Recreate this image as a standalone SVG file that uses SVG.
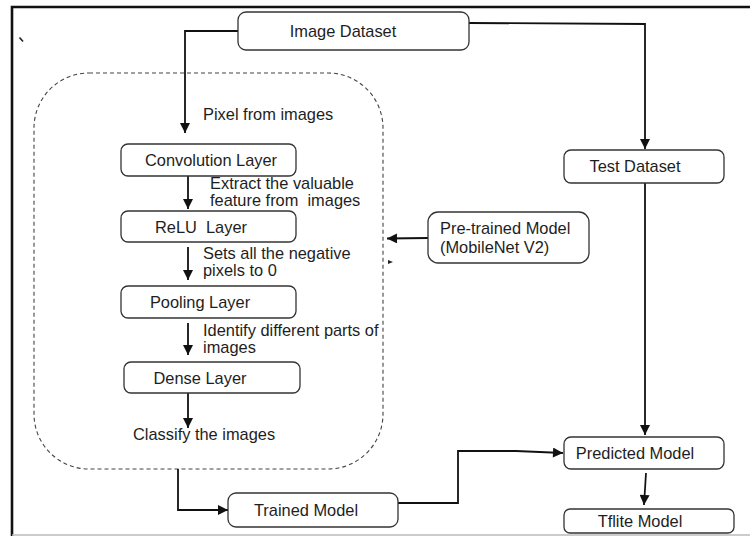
<svg xmlns="http://www.w3.org/2000/svg" width="750" height="536" viewBox="0 0 750 536">
<style>
.box{fill:#fff;stroke:#333;stroke-width:1.3}
.t{font-family:"Liberation Sans",Arial,sans-serif;font-size:16.4px;fill:#1e1e1e}
.c{text-anchor:middle}
.ln{fill:none;stroke:#111;stroke-width:1.8}
</style>
<defs>
<marker id="ah" viewBox="0 0 10 10" refX="10" refY="5" markerWidth="7" markerHeight="7" markerUnits="userSpaceOnUse" orient="auto">
<path d="M0,0 L10,5 L0,10 z" fill="#111"/>
</marker>
<marker id="ahs" viewBox="0 0 10 10" refX="10" refY="5" markerWidth="12" markerHeight="10" markerUnits="userSpaceOnUse" orient="auto">
<path d="M0,0 L10,5 L0,10 z" fill="#111"/>
</marker>
</defs>
<rect x="0" y="0" width="750" height="536" fill="#fff"/>
<path d="M760,7 L12,7 L12,536" fill="none" stroke="#111" stroke-width="2.6"/>
<line x1="12" y1="535" x2="750" y2="535" stroke="#bbb" stroke-width="1.5"/>
<line x1="19.5" y1="37.5" x2="23" y2="41.5" stroke="#222" stroke-width="1.6"/>
<path d="M388,260 L393,262 L388,264 z" fill="#222"/>

<g id="container">
<rect x="34" y="73" width="349" height="396" rx="55" ry="55" fill="none" stroke="#444" stroke-width="1.1" stroke-dasharray="4,3"/>
</g>

<g id="connectors">
<path class="ln" d="M238,31 L185,31 L185,133" marker-end="url(#ahs)"/>
<path class="ln" d="M469,23 L645,24 L645,149" marker-end="url(#ahs)"/>
<path class="ln" d="M188,176 L188,209" marker-end="url(#ahs)"/>
<path class="ln" d="M188,247 L188,280" marker-end="url(#ahs)"/>
<path class="ln" d="M188,323 L188,355" marker-end="url(#ahs)"/>
<path class="ln" d="M188,393 L188,428" marker-end="url(#ahs)"/>
<path class="ln" d="M178,469 L178,510 L228,510" marker-end="url(#ahs)"/>
<path class="ln" d="M398,503 L458,503 L458,451 L516,451 L563,453" marker-end="url(#ahs)"/>
<path class="ln" d="M645,183 L645,435" marker-end="url(#ahs)"/>
<path class="ln" d="M646,473 L644,505" marker-end="url(#ahs)"/>
<path class="ln" d="M428,238 L387,238.5" marker-end="url(#ahs)"/>
</g>

<g id="image-dataset">
<rect class="box" x="238" y="12" width="231" height="38" rx="8"/>
<text class="t" x="343" y="37" text-anchor="middle">Image Dataset</text>
</g>
<text class="t" x="203" y="120">Pixel from images</text>

<g id="convolution-layer">
<rect class="box" x="121" y="144" width="175" height="32" rx="7"/>
<text class="t" x="211" y="166" text-anchor="middle">Convolution Layer</text>
</g>
<text class="t" x="210" y="189">Extract the valuable</text>
<text class="t" x="210" y="206" xml:space="preserve">feature from  images</text>

<g id="relu-layer">
<rect class="box" x="121" y="211" width="175" height="31" rx="7"/>
<text class="t" x="201" y="233" text-anchor="middle" xml:space="preserve">ReLU  Layer</text>
</g>
<text class="t" x="203" y="259">Sets all the negative</text>
<text class="t" x="203" y="276">pixels to 0</text>

<g id="pooling-layer">
<rect class="box" x="121" y="286" width="175" height="32" rx="7"/>
<text class="t" x="200" y="308" text-anchor="middle">Pooling Layer</text>
</g>
<text class="t" x="203" y="336">Identify different parts of</text>
<text class="t" x="203" y="353">images</text>

<g id="dense-layer">
<rect class="box" x="124" y="362" width="176" height="31" rx="7"/>
<text class="t" x="200" y="384" text-anchor="middle">Dense Layer</text>
</g>
<text class="t" x="133" y="440">Classify the images</text>

<g id="trained-model">
<rect class="box" x="228" y="493" width="170" height="34" rx="8"/>
<text class="t" x="306" y="516" text-anchor="middle">Trained Model</text>
</g>

<g id="test-dataset">
<rect class="box" x="564" y="150" width="160" height="33" rx="7"/>
<text class="t" x="635" y="172" text-anchor="middle">Test Dataset</text>
</g>

<g id="pretrained-model">
<rect class="box" x="428" y="212" width="161" height="51" rx="10"/>
<text class="t" x="440" y="234">Pre-trained Model</text>
<text class="t" x="440" y="253">(MobileNet V2)</text>
</g>

<g id="predicted-model">
<rect class="box" x="564" y="437" width="160" height="32" rx="7"/>
<text class="t" x="635" y="459" text-anchor="middle">Predicted Model</text>
</g>

<g id="tflite-model">
<rect class="box" x="564" y="509" width="170" height="24" rx="6"/>
<text class="t" x="640" y="527" text-anchor="middle">Tflite Model</text>
</g>
</svg>
